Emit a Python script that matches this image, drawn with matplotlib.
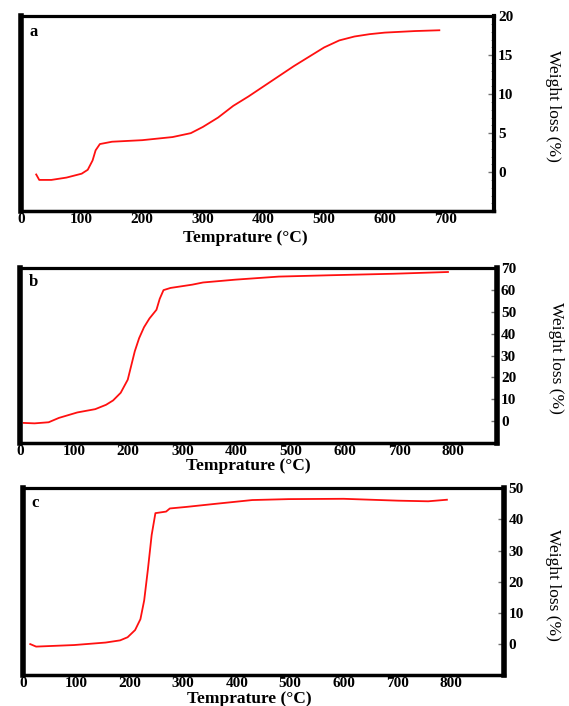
import matplotlib.pyplot as plt
from matplotlib.ticker import MultipleLocator

# Curva a (temperatura en C, perdida de peso en %)
temp_a = [25, 30, 50, 75, 100, 110, 118, 123, 130, 150, 200, 250, 280, 300, 325,
          350, 375, 400, 425, 450, 475, 500, 525, 550, 575, 600, 650, 690]
loss_a = [-0.3, -1.0, -1.0, -0.7, -0.2, 0.3, 1.5, 2.8, 3.6, 3.9, 4.1, 4.5, 5.0, 5.8, 7.0,
          8.5, 9.7, 11.0, 12.3, 13.6, 14.8, 16.0, 16.9, 17.4, 17.7, 17.9, 18.1, 18.2]

# Curva b
temp_b = [7, 27, 53, 72, 106, 139, 159, 172, 186, 199, 206, 212, 220, 229, 239,
          252, 258, 265, 278, 318, 338, 398, 438, 478, 571, 690, 790]
loss_b = [-0.8, -1.0, -0.5, 1.5, 4.0, 5.5, 7.5, 9.5, 13, 19, 26, 32, 38, 43, 47,
          51, 56, 60, 61, 62.5, 63.5, 64.8, 65.5, 66.2, 66.8, 67.5, 68.3]

# Curva c
temp_c = [14, 25, 96, 155, 182, 196, 210, 220, 227, 234, 241, 248, 268, 275,
          306, 361, 429, 497, 600, 702, 758, 793]
loss_c = [0.0, -0.8, -0.3, 0.5, 1.2, 2.2, 4.5, 8, 14, 24, 35, 42, 42.5, 43.5,
          44, 45, 46.2, 46.5, 46.6, 46.0, 45.8, 46.3]

paneles = [
    # (x, y, etiqueta, rect, xlim, ylim, yticks, xticks, menor, ancho eje der, pos xlabel, pos ylabel)
    (temp_a, loss_a, 'a', [0.037, 0.701, 0.831, 0.276], (0, 780), (-5, 20),
     range(0, 25, 5), range(0, 800, 100), 1, 3.0,
     (245 / 569, 1 - 238 / 706), (553 / 569, 1 - 106 / 706)),
    (temp_b, loss_b, 'b', [0.035, 0.3725, 0.838, 0.2475], (0, 880), (-10, 70),
     range(0, 80, 10), range(0, 900, 100), None, 4.0,
     (248 / 569, 1 - 466 / 706), (556 / 569, 1 - 358 / 706)),
    (temp_c, loss_c, 'c', [0.040, 0.0435, 0.846, 0.265], (0, 900), (-10, 50),
     range(0, 60, 10), range(0, 900, 100), None, 4.0,
     (249 / 569, 1 - 699 / 706), (553 / 569, 1 - 585 / 706)),
]

plt.rcParams['font.family'] = 'Liberation Serif'

fig = plt.figure(figsize=(5.69, 7.06), dpi=100)

for x, y, letra, rect, xl, yl, yt, xt, menor, wder, pxl, pyl in paneles:
    ax = fig.add_axes(rect)
    ax.plot(x, y, color='#ff1010', lw=1.3)
    ax.set_xlim(*xl)
    ax.set_ylim(*yl)
    ax.set_xticks(list(xt))
    ax.set_yticks(list(yt))
    if menor:
        ax.yaxis.set_minor_locator(MultipleLocator(menor))
    ax.yaxis.tick_right()
    ax.tick_params(axis='y', which='major', direction='in', length=4, width=1,
                   color='0.45', labelsize=11, pad=3)
    ax.tick_params(axis='y', which='minor', direction='in', length=2.5, width=0.6,
                   color='0.5')
    ax.tick_params(axis='x', length=0, labelsize=11, pad=1.5)
    for lab in ax.get_xticklabels() + ax.get_yticklabels():
        lab.set_fontweight('bold')
    for lado, w in [('left', 4.0), ('right', wder), ('top', 2.3), ('bottom', 2.5)]:
        ax.spines[lado].set_linewidth(w)
    ax.text(0.018, 0.92, letra, transform=ax.transAxes, fontsize=12,
            fontweight='bold', va='center', ha='left')
    fig.text(pxl[0], pxl[1], 'Temprature (\u00b0C)', ha='center', va='center',
             fontsize=12.5, fontweight='bold')
    fig.text(pyl[0], pyl[1], 'Weight loss (%)', ha='center', va='center',
             rotation=270, fontsize=12.5)

fig.savefig('out.png', dpi=100)
